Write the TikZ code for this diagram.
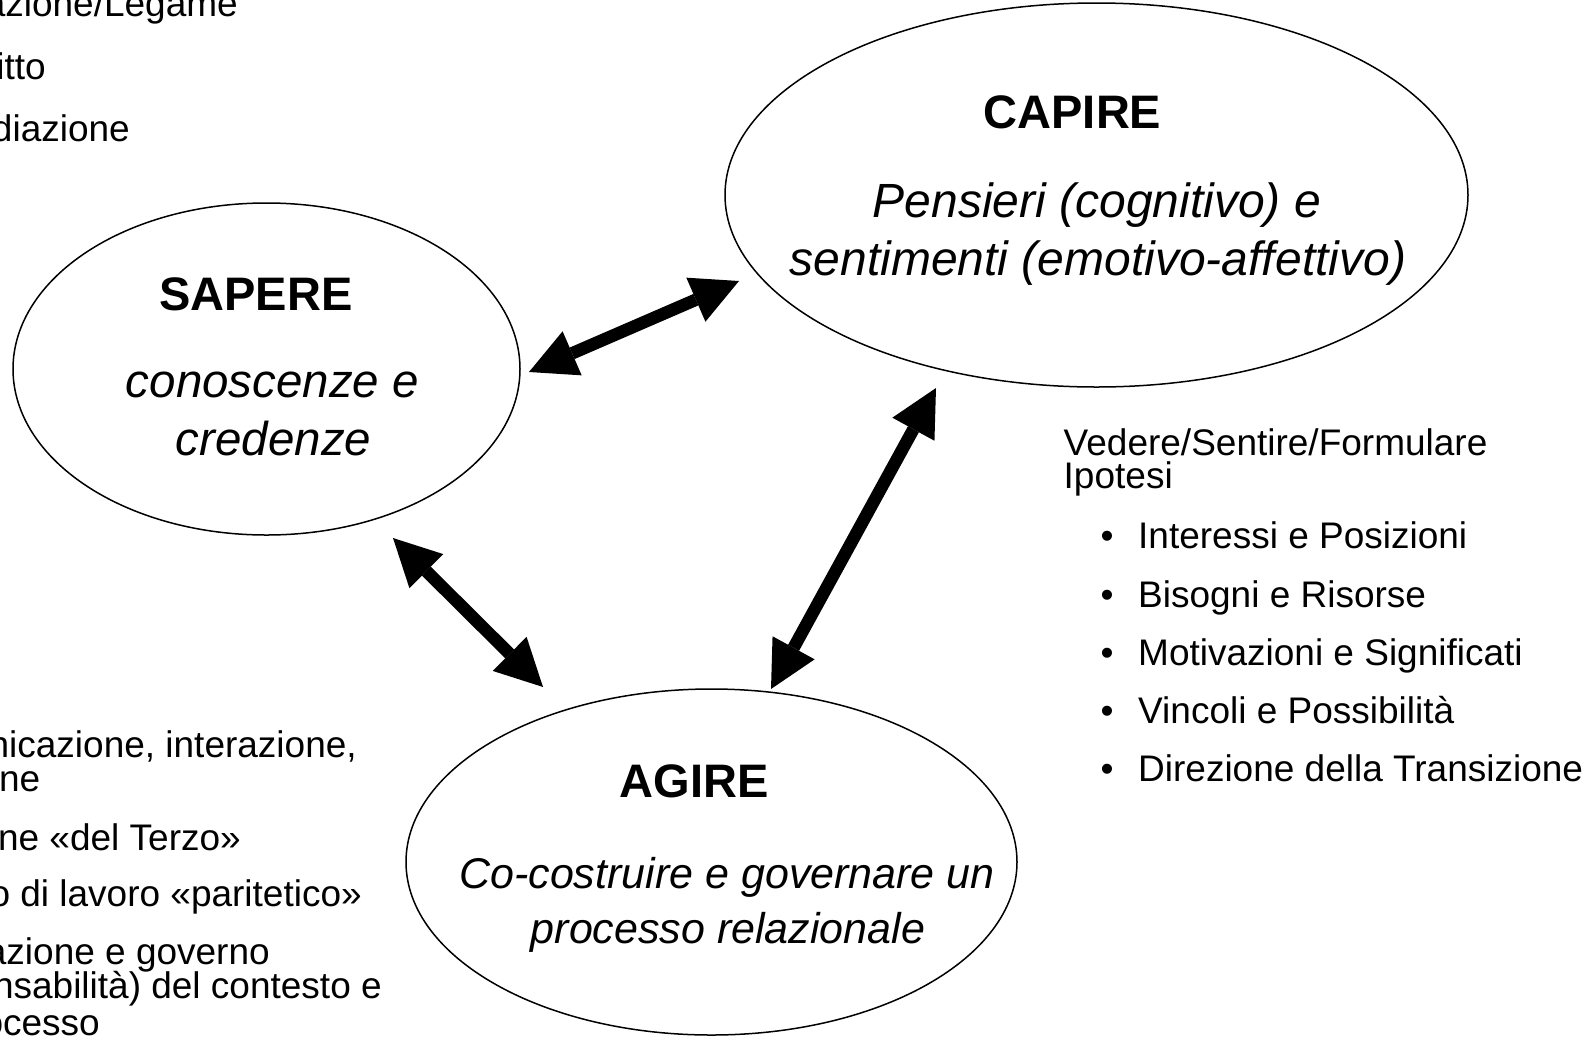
\documentclass[tikz,border=0pt]{standalone}
\usepackage{fontspec}
\setmainfont{Liberation Sans}
\usetikzlibrary{arrows.meta,shapes.geometric}
\begin{document}
\begin{tikzpicture}[x=1pt,y=-1pt,
  ell/.style={draw, ellipse, line width=1.5pt, inner sep=0pt},
  ttl/.style={font=\fontsize{47}{56}\selectfont\bfseries, anchor=base, inner sep=0pt},
  itx/.style={font=\fontsize{48}{58}\selectfont\itshape, anchor=base, inner sep=0pt},
  itxs/.style={font=\fontsize{43}{55}\selectfont\itshape, anchor=base, inner sep=0pt},
  sm/.style={font=\fontsize{37}{44}\selectfont, inner sep=0pt},
  tipdbl/.tip={Triangle[length=47pt,width=48pt,line width=0pt]},
  dbl/.style={line width=12.5pt, tipdbl-tipdbl}
]
\useasboundingbox (0,0) rectangle (1588,1045);
\fill[white] (0,0) rectangle (1588,1045);
\clip (0,0) rectangle (1588,1045);

% ellipses
\node[ell, minimum width=743pt, minimum height=384pt] (capire) at (1096.5,195) {};
\node[ell, minimum width=507pt, minimum height=332pt] (sapere) at (266.5,369) {};
\node[ell, minimum width=611pt, minimum height=346pt] (agire) at (711.5,862) {};

% texts inside ellipses
\node[ttl] (capT) at (1072.5,128.5) {CAPIRE};
\node[itx] (capL1) at (1097,217) {Pensieri (cognitivo) e};
\node[itx] (capL2) at (1098,275) {sentimenti (emotivo-affettivo)};

\node[ttl] (sapT) at (256,310) {SAPERE};
\node[itx, font=\fontsize{47.5}{58}\selectfont\itshape] (sapL1) at (272.5,397) {conoscenze e};
\node[itx, font=\fontsize{47.5}{58}\selectfont\itshape] (sapL2) at (273.5,455) {credenze};

\node[ttl] (agiT) at (694,797) {AGIRE};
\node[itxs] (agiL1) at (727,888) {Co-costruire e governare un};
\node[itxs] (agiL2) at (728,943) {processo relazionale};

% right block
\node[font=\fontsize{37}{33}\selectfont, inner sep=0pt, align=left, anchor=base west] (ved) at (1063.5,488) {Vedere/Sentire/Formulare\\Ipotesi};
\foreach \yy/\tt/\nm in {548/Interessi e Posizioni/b1, 607/Bisogni e Risorse/b2, 665/Motivazioni e Significati/b3, 723/Vincoli e Possibilità/b4, 781/Direzione della Transizione/b5}{
  \node[sm, anchor=base west] (\nm dot) at (1100.5,\yy) {\textbullet};
  \node[sm, anchor=base west] (\nm) at (1138,\yy) {\tt};
}

% left fragments (cut by the page edge)
\node[sm, anchor=base east] (l1) at (238,16) {azione/Legame};
\node[sm, anchor=base east] (l2) at (46,79) {itto};
\node[sm, anchor=base east] (l3) at (130,141) {diazione};

\node[sm, anchor=base east] (m1a) at (357,757) {nicazione, interazione,};
\node[sm, anchor=base east] (m1b) at (40.5,791) {ne};
\node[sm, anchor=base east] (m2) at (241,850) {ne «del Terzo»};
\node[sm, anchor=base east] (m3) at (362,906) {o di lavoro «paritetico»};
\node[sm, anchor=base east] (m4a) at (270,964) {azione e governo};
\node[sm, anchor=base east] (m4b) at (382,998) {nsabilità) del contesto e};
\node[sm, anchor=base east] (m4c) at (100,1035) {ocesso};

% arrows
\coordinate (a1s) at (529,372);
\coordinate (a1c) at (739,281);
\coordinate (a2s) at (393,538);
\coordinate (a2a) at (543,687);
\coordinate (a3c) at (936,388);
\coordinate (a3a) at (771,689);
\draw[dbl] (a1s) -- (a1c);
\draw[dbl] (a2s) -- (a2a);
\draw[dbl] (a3c) -- (a3a);
\end{tikzpicture}
\end{document}
